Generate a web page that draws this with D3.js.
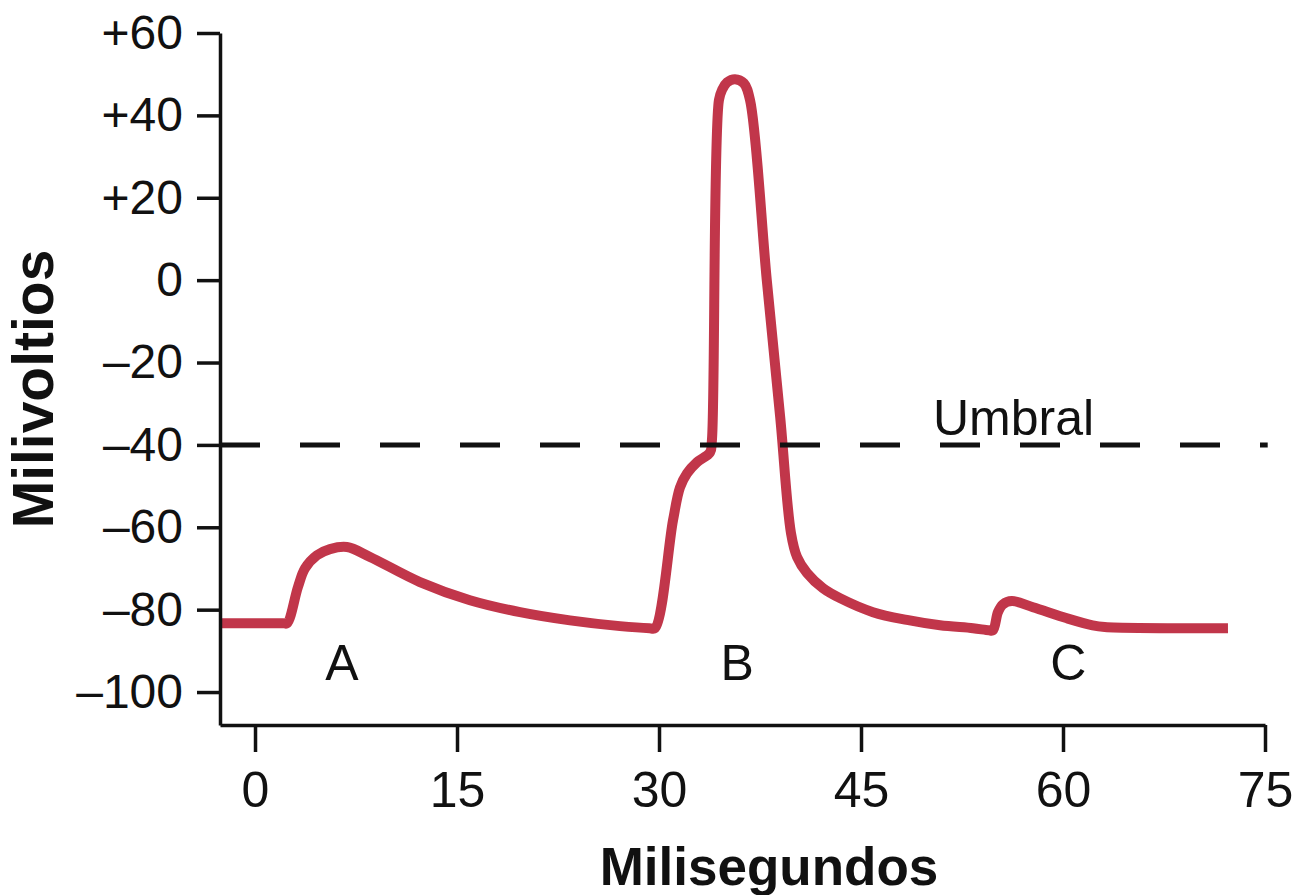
<!DOCTYPE html>
<html>
<head>
<meta charset="utf-8">
<script src="https://cdn.jsdelivr.net/npm/d3@7"></script>
<style>
  html, body { margin: 0; padding: 0; background: #fff; }
  svg { display: block; }
  text { font-family: "Liberation Sans", Arial, Helvetica, sans-serif; fill: #111; }
</style>
</head>
<body>
<svg id="chart" width="1308" height="895"></svg>
<script>
// ---- data ----
const xTicks = [0, 15, 30, 45, 60, 75];
const yTicks = [60, 40, 20, 0, -20, -40, -60, -80, -100];
const yTickLabels = ["+60", "+40", "+20", "0", "\u201320", "\u201340", "\u201360", "\u201380", "\u2013100"];

// membrane potential trace (ms, mV)
const times = [
  -2.45, 2.1, 2.38, 3.19, 3.71, 4.60, 5.57, 6.83, 8.54, 12.25, 15.96, 19.68, 23.39, 27.1, 29.3, 29.7,
  31.04, 31.56, 32.08, 32.82, 33.79, 33.93, 34.45, 34.7, 35.05, 35.64, 36.3, 36.76,
  38.0, 39.0, 39.8, 40.25, 40.99, 42.18, 43.44, 45.89, 48.41, 50.87, 53.32, 54.5, 54.8,
  55.17, 55.54, 56.2, 57.77, 60.3, 62.2, 63.1, 72.25
];
const millivolts = [
  -83.3, -83.3, -83.3, -74.5, -70.0, -66.8, -65.3, -64.8, -67.2, -73.3, -77.7, -80.6, -82.6, -84.0, -84.5, -84.5,
  -58.3, -50.3, -46.9, -44.2, -41.8, -38.8, 43.7, 46.3, 48.0, 48.8, 47.8, 43.7,
  0.1, -33.3, -61.4, -67.2, -71.1, -74.8, -77.2, -80.6, -82.5, -83.8, -84.5, -85.0, -85.0,
  -80.6, -78.7, -77.9, -79.4, -82.1, -83.8, -84.2, -84.5
];

const thresholdValue = -40;
const thresholdLabel = "Umbral";
const segmentLabels = ["A", "B", "C"];
const segmentLabelTimes = [6.46, 35.8, 60.4];
const segmentLabelValue = -97.1;

const xTitle = "Milisegundos";
const yTitle = "Milivoltios";

// ---- chart ----
const svg = d3.select("#chart");
svg.append("rect").attr("width", 1308).attr("height", 895).attr("fill", "#fff");

const x = d3.scaleLinear().domain([-2.6, 75]).range([220, 1265]);
const y = d3.scaleLinear().domain([-108, 60]).range([725, 33]);

const axisColor = "#111";

// trace
const pts = times.map((t, i) => [t, millivolts[i]]);
const line = d3.line().x(d => x(d[0])).y(d => y(d[1])).curve(d3.curveCatmullRom.alpha(0.5));
svg.append("path")
  .datum(pts)
  .attr("d", line)
  .attr("fill", "none")
  .attr("stroke", "#c1364a")
  .attr("stroke-width", 10)
  .attr("stroke-linejoin", "round");

// threshold dashed line (drawn over the trace)
svg.append("line")
  .attr("x1", x(-2.6)).attr("x2", x(75.2))
  .attr("y1", y(thresholdValue)).attr("y2", y(thresholdValue))
  .attr("stroke", axisColor)
  .attr("stroke-width", 5)
  .attr("stroke-dasharray", "40,40");

svg.append("text")
  .attr("x", 933).attr("y", y(thresholdValue) - 10)
  .attr("font-size", 50)
  .text(thresholdLabel);

// axes
const yAxis = d3.axisLeft(y)
  .tickValues(yTicks)
  .tickFormat((d, i) => yTickLabels[i])
  .tickSize(23).tickPadding(14).tickSizeOuter(0);
const gy = svg.append("g").attr("transform", `translate(${x(-2.6)},0)`).call(yAxis);

const xAxis = d3.axisBottom(x)
  .tickValues(xTicks)
  .tickFormat(d3.format("d"))
  .tickSize(27).tickPadding(19).tickSizeOuter(0);
const gx = svg.append("g").attr("transform", `translate(0,${y(-108)})`).call(xAxis);

[gx, gy].forEach(g => {
  g.select(".domain").attr("stroke", axisColor).attr("stroke-width", 3.5);
  g.selectAll(".tick line").attr("stroke", axisColor).attr("stroke-width", 3.5);
  g.selectAll(".tick text").attr("fill", "#111")
    .style("font-family", '"Liberation Sans", Arial, Helvetica, sans-serif');
});
gy.selectAll(".tick text").attr("font-size", 48);
gx.selectAll(".tick text").attr("font-size", 50);

// segment labels
svg.selectAll(".seg")
  .data(segmentLabels)
  .enter().append("text")
  .attr("class", "seg")
  .attr("x", (d, i) => x(segmentLabelTimes[i]))
  .attr("y", y(segmentLabelValue))
  .attr("text-anchor", "middle")
  .attr("font-size", 50)
  .text(d => d);

// titles
svg.append("text")
  .attr("x", 769).attr("y", 885)
  .attr("text-anchor", "middle")
  .attr("font-size", 53)
  .attr("font-weight", "bold")
  .text(xTitle);

svg.append("text")
  .attr("transform", "translate(53,389) rotate(-90)")
  .attr("text-anchor", "middle")
  .attr("font-size", 57)
  .attr("font-weight", "bold")
  .text(yTitle);
</script>
</body>
</html>
